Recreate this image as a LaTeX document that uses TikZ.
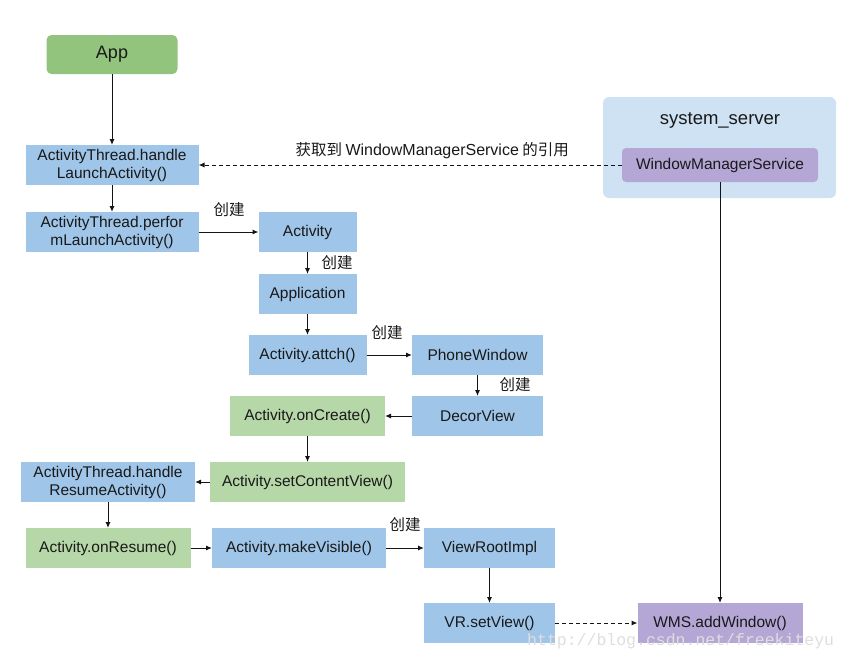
\documentclass[tikz,border=0pt]{standalone}
\usepackage{fontspec}
\setmainfont{Liberation Sans}
\newfontfamily\cjk{Noto Sans CJK SC}
\newfontfamily\wmfont{Liberation Mono}
\usetikzlibrary{arrows.meta}
\begin{document}
\begin{tikzpicture}[x=1pt,y=-1pt,
  box/.style={inner sep=0, outer sep=0, minimum height=40pt, align=center, text=custcol_txt, font=\fontsize{15.5pt}{18pt}\selectfont},
  bluebox/.style={box, fill=custcol_blue},
  greenbox/.style={box, fill=custcol_green},
  purplebox/.style={box, fill=custcol_purple},
  link/.style={line width=1pt, custcol_line, -{Latex[length=6pt,width=5pt]}},
  reflink/.style={link, dash pattern=on 4pt off 3pt},
  cjklabel/.style={inner sep=0, text=custcol_txt, font=\cjk\fontsize{15.5pt}{15.5pt}\selectfont}]
\definecolor{custcol_txt}{RGB}{25, 25, 25}
\definecolor{custcol_line}{RGB}{20, 20, 20}
\definecolor{custcol_blue}{RGB}{159, 197, 232}
\definecolor{custcol_green}{RGB}{182, 215, 168}
\definecolor{custcol_app}{RGB}{147, 196, 125}
\definecolor{custcol_purple}{RGB}{180, 167, 214}
\definecolor{custcol_server}{RGB}{207, 226, 243}
\useasboundingbox (0,0) rectangle (849,662);
% system_server
\node[fill=custcol_server, rounded corners=6pt, minimum width=233pt, minimum height=101pt, inner sep=0] (server) at (719.5,147.5) {};
\node[text=custcol_txt, font=\fontsize{18.5pt}{18pt}\selectfont] (servertitle) at (720,120) {system\_server};
\node[purplebox, rounded corners=4pt, minimum width=196pt, minimum height=34pt] (wms) at (720,165) {WindowManagerService};
% app side
\node[box, fill=custcol_app, rounded corners=5pt, minimum width=131pt, minimum height=39pt, font=\fontsize{18pt}{18pt}\selectfont] (app) at (112,54.5) {App};
\node[bluebox, minimum width=173pt] (handlelaunch) at (112,165) {ActivityThread.handle\\LaunchActivity()};
\node[bluebox, minimum width=173pt] (performlaunch) at (112,232) {ActivityThread.perfor\\mLaunchActivity()};
\node[bluebox, minimum width=98pt] (activity) at (307.5,232) {Activity};
\node[bluebox, minimum width=98pt] (application) at (307.5,294) {Application};
\node[bluebox, minimum width=118pt] (attach) at (307.5,355) {Activity.attch()};
\node[bluebox, minimum width=131pt] (phonewindow) at (477.5,355) {PhoneWindow};
\node[bluebox, minimum width=131pt] (decorview) at (477.5,416) {DecorView};
\node[greenbox, minimum width=155pt] (oncreate) at (307.5,416) {Activity.onCreate()};
\node[greenbox, minimum width=195pt] (setcontent) at (307.5,482) {Activity.setContentView()};
\node[bluebox, minimum width=174pt] (handleresume) at (108,482) {ActivityThread.handle\\ResumeActivity()};
\node[greenbox, minimum width=165pt] (onresume) at (108,548) {Activity.onResume()};
\node[bluebox, minimum width=174pt] (makevisible) at (299,548) {Activity.makeVisible()};
\node[bluebox, minimum width=131pt] (viewroot) at (489.5,548) {ViewRootImpl};
\node[bluebox, minimum width=131pt] (setview) at (489.5,623) {VR.setView()};
\node[purplebox, minimum width=165pt] (addwindow) at (720,623) {WMS.addWindow()};
% connectors
\draw[link] (app) -- (handlelaunch);
\draw[reflink] (wms) -- (handlelaunch) node[midway, above=6pt, xshift=22pt, cjklabel] (reflabel) {获取到 {\fontspec{Liberation Sans}\fontsize{16pt}{16pt}\selectfont WindowManagerService} 的引用};
\draw[link] (handlelaunch) -- (performlaunch);
\draw[link] (performlaunch) -- (activity);
\draw[link] (activity) -- (application);
\draw[link] (application) -- (attach);
\draw[link] (attach) -- (phonewindow);
\draw[link] (phonewindow) -- (decorview);
\draw[link] (decorview) -- (oncreate);
\draw[link] (oncreate) -- (setcontent);
\draw[link] (setcontent) -- (handleresume);
\draw[link] (handleresume) -- (onresume);
\draw[link] (onresume) -- (makevisible);
\draw[link] (makevisible) -- (viewroot);
\draw[link] (viewroot) -- (setview);
\draw[reflink] (setview) -- (addwindow);
\draw[link] (wms) -- (addwindow);
% labels
\node[cjklabel] (create1) at (229,210) {创建};
\node[cjklabel] (create2) at (337,263) {创建};
\node[cjklabel] (create3) at (387,333) {创建};
\node[cjklabel] (create4) at (515,385) {创建};
\node[cjklabel] (create5) at (405,525) {创建};
% watermark
\node[inner sep=0, anchor=west, text=black!13, font=\wmfont\fontsize{16.5pt}{16.5pt}\selectfont] (watermark) at (527,641) {http://blog.csdn.net/freekiteyu};
\end{tikzpicture}
\end{document}
